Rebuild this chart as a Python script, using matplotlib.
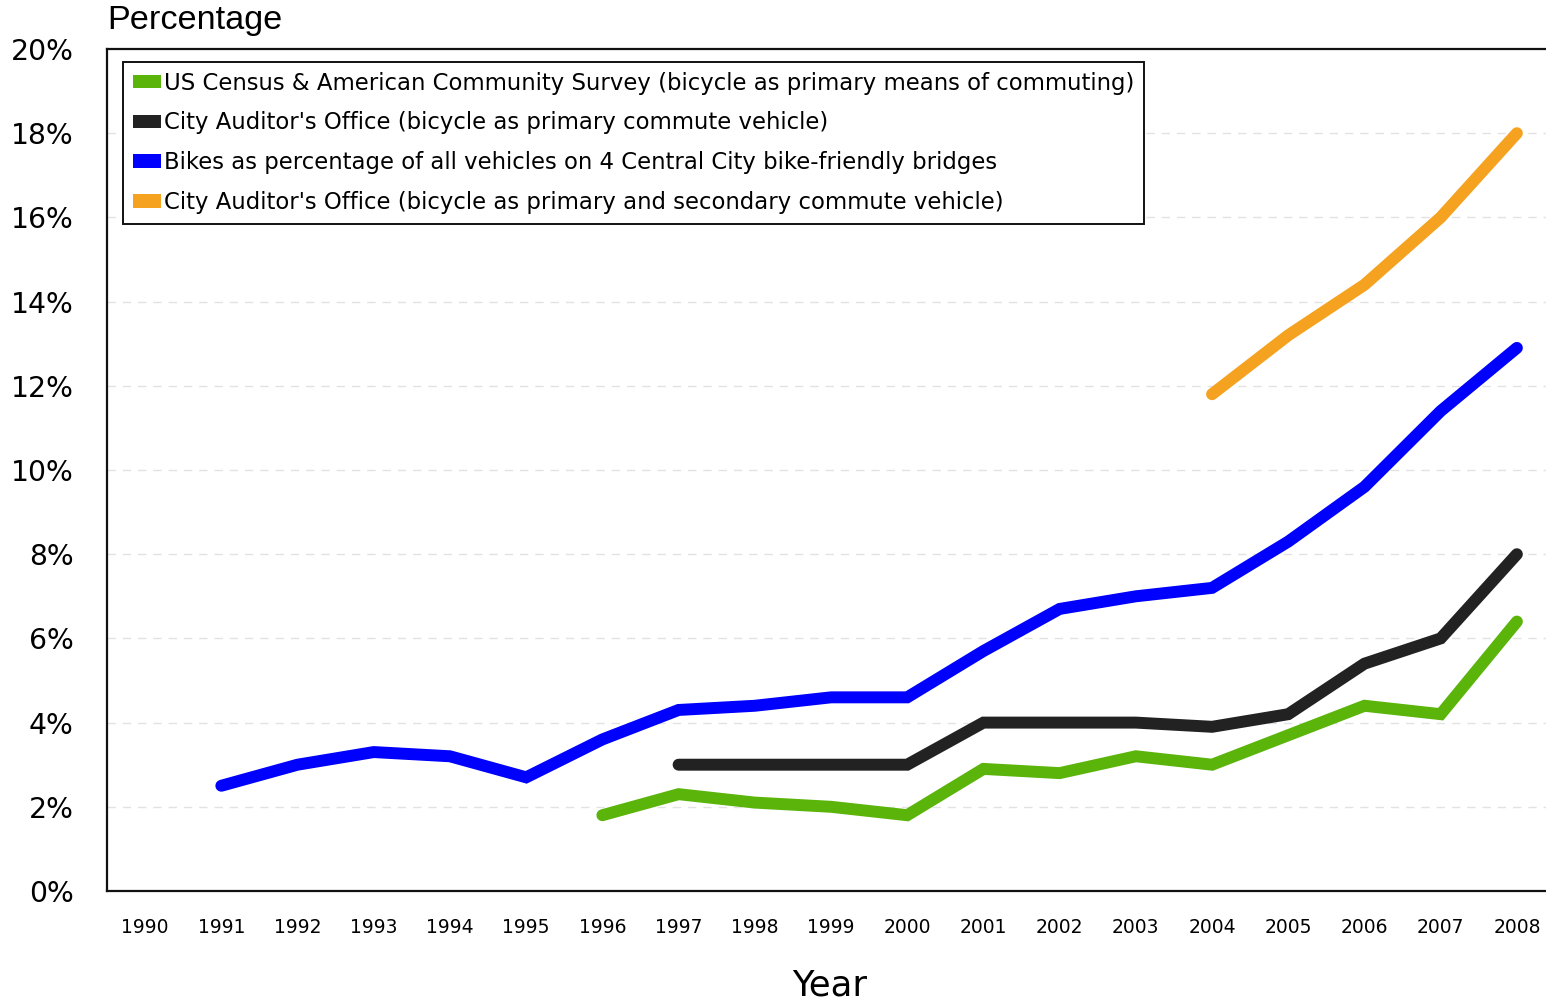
import matplotlib
matplotlib.use("Agg")
import matplotlib.pyplot as plt
from matplotlib.patches import Patch

# Bicycle commuting share, by year
years = list(range(1990, 2009))

census_years = list(range(1996, 2009))
census = [1.8, 2.3, 2.1, 2.0, 1.8, 2.9, 2.8, 3.2, 3.0, 3.7, 4.4, 4.2, 6.4]

auditor_years = list(range(1997, 2009))
auditor_primary = [3.0, 3.0, 3.0, 3.0, 4.0, 4.0, 4.0, 3.9, 4.2, 5.4, 6.0, 8.0]

bridge_years = list(range(1991, 2009))
bridges = [2.5, 3.0, 3.3, 3.2, 2.7, 3.6, 4.3, 4.4, 4.6, 4.6, 5.7, 6.7,
           7.0, 7.2, 8.3, 9.6, 11.4, 12.9]

both_years = list(range(2004, 2009))
auditor_both = [11.8, 13.2, 14.4, 16.0, 18.0]

y_ticks = list(range(0, 21, 2))

labels = [
    "US Census & American Community Survey (bicycle as primary means of commuting)",
    "City Auditor's Office (bicycle as primary commute vehicle)",
    "Bikes as percentage of all vehicles on 4 Central City bike-friendly bridges",
    "City Auditor's Office (bicycle as primary and secondary commute vehicle)",
]
colors = ["#5ab40a", "#222222", "#0000ff", "#f4a21f"]

W, H = 1546, 1005
fig = plt.figure(figsize=(W / 100, H / 100), dpi=100)
ax = fig.add_axes([107 / W, 1 - 891 / H, 1448 / W, 842 / H])

series = [(census_years, census), (auditor_years, auditor_primary),
          (bridge_years, bridges), (both_years, auditor_both)]
for (xs, ys), c in zip(series, colors):
    ax.plot(xs, ys, color=c, linewidth=8.6, solid_capstyle="round",
            solid_joinstyle="miter", zorder=3)

ax.set_xlim(1989.5, 2008.5)
ax.set_ylim(0, 20)
ax.set_xticks(years)
ax.set_xticklabels([str(y) for y in years], fontsize=13.5, family="DejaVu Sans")
ax.set_yticks(y_ticks)
ax.set_yticklabels([f"{v}%" for v in y_ticks], fontsize=20.3, family="DejaVu Sans")
ax.tick_params(axis="x", length=0, pad=19.5)
ax.tick_params(axis="y", length=0, pad=24)

for v in y_ticks[1:-1]:
    ax.axhline(v, color="#e2e2e2", linewidth=1, linestyle=(0, (6, 5)), zorder=1)

for side in ["left", "bottom", "top"]:
    ax.spines[side].set_linewidth(1.6)
    ax.spines[side].set_color("#111111")
ax.spines["right"].set_visible(False)

handles = [Patch(facecolor=c, edgecolor="none") for c in colors]
leg = ax.legend(handles, labels, loc="upper left",
                bbox_to_anchor=(123 / W, 1 - 62 / H),
                bbox_transform=fig.transFigure, frameon=True,
                prop={"family": "DejaVu Sans", "size": 16.4},
                handlelength=1.25, handleheight=0.55, handletextpad=0.15,
                labelspacing=0.74, borderpad=0.42, borderaxespad=0,
                fancybox=False)
frame = leg.get_frame()
frame.set_edgecolor("#111111")
frame.set_linewidth(1.4)
frame.set_alpha(1)

fig.text(107 / W, 1 - 20 / H, "Percentage", fontsize=24.7,
         family="Liberation Sans", va="center", ha="left")
fig.text(830 / W, 1 - 985 / H, "Year", fontsize=25.5,
         family="DejaVu Sans", va="center", ha="center")

fig.savefig("out.png", dpi=100)
